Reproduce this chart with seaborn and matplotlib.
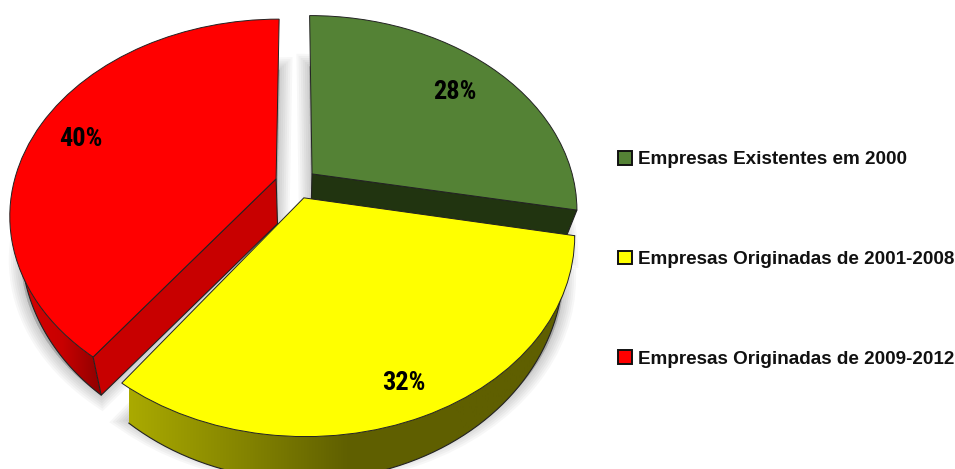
import numpy as np
import matplotlib
matplotlib.use('Agg')
import matplotlib.pyplot as plt
import matplotlib.transforms as mtransforms
from matplotlib.colors import LinearSegmentedColormap
from matplotlib.patches import Patch, Polygon
import seaborn as sns

# Chart data
categories = ['Empresas Existentes em 2000',
              'Empresas Originadas de 2001-2008',
              'Empresas Originadas de 2009-2012']
shares = [28, 32, 40]
top_colors = ['#548235', '#ffff00', '#ff0000']
face_colors = ['#213410', '#5f5f00', '#c80000']
wall_colors = [['#213410', '#213410'],
               ['#aaaa00', '#868600', '#606000', '#5f5f00', '#5f5f00'],
               ['#d80000', '#c80000', '#880000']]
explode = [0.08, 0.08, 0.08]

sns.set_theme(style='white')
plt.rcParams['font.family'] = ['Liberation Sans']

# Perspective used to tilt the flat pie, result is in image pixels
CX, CY = 296, 183.5
RX, RY = 262.5, 190
TILT = 0.18
DEPTH = 26


def project(x, y, z=0.0):
    w = 1 + TILT * y
    px = RX * x / w
    py = -RY * y / w
    return CX + px * (1 - 0.04 * z), CY + py + z * (DEPTH + 0.07 * py)


class Tilt(mtransforms.Transform):
    input_dims = 2
    output_dims = 2

    def __init__(self, z=0.0):
        super().__init__()
        self.z = z

    def transform_non_affine(self, values):
        px, py = project(values[:, 0], values[:, 1], self.z)
        return np.column_stack([px, py])


fig = plt.figure(figsize=(9.55, 4.69), dpi=100)
ax = fig.add_axes([0, 0, 1, 1])

# Soft shadow: wide, faint strokes around the lower face, squeezed so it starts lower at the back
squeeze = mtransforms.Affine2D().translate(0, -395).scale(1, 0.9).translate(0, 395)
for lw in [18, 15, 12, 9, 6, 3]:
    shadow, _ = ax.pie(shares, explode=explode, startangle=90, counterclock=False,
                       wedgeprops=dict(zorder=1, facecolor='black', edgecolor='black',
                                       linewidth=lw, alpha=0.03))
    for w in shadow:
        w.set_transform(Tilt(1.0) + squeeze + ax.transData)

# Top faces and labels
wedges, _, pct = ax.pie(shares, explode=explode, startangle=90, counterclock=False,
                        colors=top_colors, autopct='%.0f%%', pctdistance=0.8,
                        wedgeprops=dict(edgecolor='#222222', linewidth=0.7, zorder=10),
                        textprops=dict(zorder=11))
nudges = [(-0.015, -0.035), (0.02, -0.065), (-0.02, -0.025)]
for w, t, (dx, dy) in zip(wedges, pct, nudges):
    w.set_transform(Tilt() + ax.transData)
    t.set_transform(Tilt() + ax.transData)
    tx, ty = t.get_position()
    t.set_position((tx + dx, ty + dy))
    t.set(family=['Liberation Sans Narrow', 'Roboto Condensed', 'Open Sans Condensed',
                  'Noto Sans Condensed', 'Liberation Sans'],
          fontweight='bold', fontsize=19, color='black')

# Side walls of each slice
for i, w in enumerate(wedges):
    t1, t2 = np.radians([w.theta1, w.theta2])
    ang = np.linspace(t1, t2, 200)
    wx, wy = w.center
    ux = wx + w.r * np.cos(ang)
    uy = wy + w.r * np.sin(ang)
    top = np.column_stack(project(ux, uy, 0))
    low = np.column_stack(project(ux, uy, 1))
    # the back of the lower rim is hidden and would only poke out at the gap
    keep = low[:, 1] > 200
    top, low = top[keep], low[keep]
    wall = Polygon(np.vstack([top, low[::-1]]), closed=True, facecolor='none', edgecolor='none')
    ax.add_patch(wall)
    cmap = LinearSegmentedColormap.from_list(f'wall{i}', wall_colors[i])
    x0, x1 = low[:, 0].min(), low[:, 0].max()
    if i == 2:
        x0, x1 = 20, 104
    img = ax.imshow(np.linspace(0, 1, 256).reshape(1, -1), cmap=cmap, aspect='auto',
                    extent=(x0, x1, 469, 0), zorder=3)
    img.set_clip_path(wall)
    ax.plot(low[:, 0], low[:, 1], color='#222222', lw=0.8, zorder=4)
    if i == 1:
        ax.plot([top[-1, 0], low[-1, 0]], [top[-1, 1], low[-1, 1]], color='#222222', lw=0.8, zorder=4)

    # Cut face along the slice edge that looks at the viewer
    if i != 1:
        edge = ang[0] if i == 0 else ang[-1]
        ex, ey = wx + w.r * np.cos(edge), wy + w.r * np.sin(edge)
        apex_z = 1.0 if i == 0 else 1.75
        corners = [project(wx, wy, 0), project(ex, ey, 0), project(ex, ey, 1), project(wx, wy, apex_z)]
        ax.add_patch(Polygon(corners, closed=True, facecolor=face_colors[i],
                             edgecolor='#222222', linewidth=0.8, zorder=5))

# Legend
handles = [Patch(facecolor=c, edgecolor='#111111', linewidth=1.4) for c in top_colors]
ax.legend(handles, categories, loc='center left', bbox_to_anchor=(0.6475, 0.447), frameon=False,
          prop=dict(family='Liberation Sans', weight='bold', size=13.6), labelcolor='#111111',
          handlelength=0.74, handleheight=0.74, handletextpad=0.3, labelspacing=4.35,
          borderpad=0, borderaxespad=0)

ax.set_aspect('auto')
ax.set_xlim(0, 955)
ax.set_ylim(469, 0)
ax.axis('off')

fig.savefig('out.png', dpi=100, facecolor='white')
